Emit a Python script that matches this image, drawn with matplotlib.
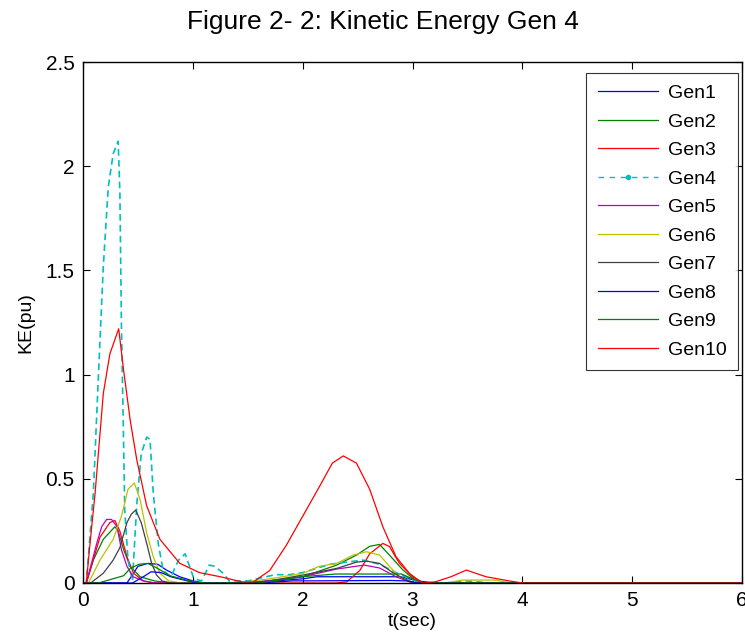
import matplotlib

matplotlib.use("Agg")
import matplotlib.pyplot as plt
from matplotlib.lines import Line2D

plt.rcParams["font.family"] = ["Liberation Sans", "DejaVu Sans"]

TITLE = "Figure 2- 2: Kinetic Energy Gen 4"
X_LABEL = "t(sec)"
Y_LABEL = "KE(pu)"
X_TICKS = [0, 1, 2, 3, 4, 5, 6]
Y_TICKS = [0, 0.5, 1, 1.5, 2, 2.5]
Y_TICK_LABELS = ["0", "0.5", "1", "1.5", "2", "2.5"]

# values (t in sec, KE in pu)
GEN1_T = [0, 0.40, 0.46, 0.50, 0.59, 0.68, 0.76, 0.88, 1.0, 1.1, 1.5, 2.0, 2.13, 2.89, 3.05, 3.2, 6]
GEN1_KE = [0, 0, 0.047, 0.08, 0.094, 0.09, 0.062, 0.03, 0.01, 0, 0, 0.02, 0.03, 0.03, 0.01, 0, 0]

GEN2_T = [0, 0.03, 0.094, 0.185, 0.29, 0.32, 0.37, 0.43, 0.52, 0.65, 0.8, 1.4, 1.7, 2.0, 2.31,
          2.49, 2.61, 2.7, 2.79, 2.91, 3.03, 3.12, 6]
GEN2_KE = [0, 0, 0.11, 0.21, 0.27, 0.25, 0.16, 0.08, 0.03, 0.01, 0, 0, 0.01, 0.03, 0.086,
           0.134, 0.176, 0.185, 0.134, 0.064, 0.01, 0, 0]

GEN3_T = [0, 0.03, 0.155, 0.245, 0.29, 0.335, 0.40, 0.46, 0.55, 0.65, 2.3, 2.40, 2.52, 2.61,
          2.73, 2.79, 2.88, 3.0, 3.1, 6]
GEN3_KE = [0, 0, 0.22, 0.29, 0.30, 0.25, 0.126, 0.047, 0.01, 0, 0, 0.005, 0.06, 0.14,
           0.19, 0.175, 0.095, 0.03, 0, 0]

GEN4_T = [0, 0.03, 0.094, 0.14, 0.185, 0.23, 0.275, 0.32, 0.336, 0.35, 0.367, 0.38, 0.41, 0.45,
          0.49, 0.53, 0.58, 0.61, 0.64, 0.685, 0.73, 0.80, 0.87, 0.93, 0.97, 1.01, 1.08, 1.15,
          1.2, 1.28, 1.33, 1.5, 1.75, 1.88, 2.0, 2.25, 2.4, 2.55, 2.7, 2.85, 3.0, 3.1, 3.3, 3.5,
          3.7, 6]
GEN4_KE = [0, 0, 0.43, 0.99, 1.52, 1.90, 2.06, 2.12, 1.87, 1.23, 0.75, 0.35, 0.11, 0.01,
           0.38, 0.62, 0.70, 0.69, 0.43, 0.19, 0.06, 0.03, 0.11, 0.14, 0.08, 0.02, 0.01, 0.086,
           0.08, 0.045, 0.01, 0.01, 0.04, 0.04, 0.05, 0.09, 0.10, 0.11, 0.09, 0.05, 0.015, 0, 0,
           0.01, 0, 0]

GEN5_T = [0, 0.03, 0.125, 0.17, 0.215, 0.26, 0.31, 0.35, 0.40, 0.455, 0.55, 0.65, 1.5, 2.0,
          2.31, 2.56, 2.7, 2.85, 3.0, 6]
GEN5_KE = [0, 0, 0.19, 0.27, 0.305, 0.305, 0.27, 0.16, 0.08, 0.03, 0.01, 0, 0, 0.03,
           0.067, 0.086, 0.072, 0.03, 0, 0]

GEN6_T = [0, 0.05, 0.155, 0.275, 0.35, 0.41, 0.467, 0.52, 0.58, 0.64, 0.70, 0.78, 0.9, 1.4,
          1.7, 2.0, 2.15, 2.31, 2.46, 2.58, 2.7, 2.79, 2.88, 3.02, 3.3, 3.45, 3.75, 3.9, 6]
GEN6_KE = [0, 0, 0.11, 0.21, 0.32, 0.45, 0.48, 0.40, 0.24, 0.126, 0.047, 0.01, 0, 0,
           0.02, 0.046, 0.08, 0.094, 0.134, 0.15, 0.134, 0.08, 0.03, 0, 0, 0.014, 0.014, 0, 0]

GEN7_T = [0, 0.07, 0.185, 0.275, 0.336, 0.40, 0.44, 0.48, 0.53, 0.58, 0.625, 0.67, 0.72, 0.8,
          1.5, 1.7, 2.0, 2.31, 2.49, 2.58, 2.7, 2.82, 2.92, 3.02, 6]
GEN7_KE = [0, 0, 0.047, 0.11, 0.17, 0.29, 0.33, 0.35, 0.29, 0.19, 0.094, 0.038, 0.01, 0,
           0, 0.01, 0.038, 0.07, 0.1, 0.105, 0.094, 0.05, 0.02, 0, 0]

GEN8_T = [0, 0.45, 0.55, 0.62, 0.71, 0.8, 0.95, 1.05, 1.6, 1.9, 2.8, 2.95, 3.05, 6]
GEN8_KE = [0, 0, 0.03, 0.054, 0.05, 0.03, 0.01, 0, 0, 0.01, 0.012, 0.01, 0, 0]

GEN9_T = [0, 0.14, 0.37, 0.43, 0.51, 0.59, 0.68, 0.79, 0.97, 1.1, 1.6, 1.99, 2.3, 2.9, 3.0,
          3.1, 6]
GEN9_KE = [0, 0, 0.035, 0.07, 0.09, 0.094, 0.07, 0.035, 0.01, 0, 0, 0.03, 0.043, 0.043, 0.02,
           0, 0]

GEN10_T = [0, 0.03, 0.064, 0.11, 0.185, 0.245, 0.325, 0.37, 0.43, 0.49, 0.58, 0.70, 0.88, 1.06,
           1.25, 1.45, 1.55, 1.7, 1.85, 2.0, 2.15, 2.27, 2.37, 2.49, 2.61, 2.73, 2.85, 2.97,
           3.09, 3.21, 3.35, 3.49, 3.67, 3.88, 4.0, 6]
GEN10_KE = [0, 0, 0.19, 0.43, 0.91, 1.10, 1.22, 1.02, 0.78, 0.59, 0.37, 0.21, 0.095, 0.05,
            0.03, 0.005, 0.005, 0.06, 0.18, 0.32, 0.46, 0.575, 0.61, 0.575, 0.45, 0.27, 0.126,
            0.047, 0, 0.006, 0.03, 0.062, 0.03, 0.01, 0, 0]

LABELS = ["Gen1", "Gen2", "Gen3", "Gen4", "Gen5", "Gen6", "Gen7", "Gen8", "Gen9", "Gen10"]
SERIES = [
    (GEN1_T, GEN1_KE),
    (GEN2_T, GEN2_KE),
    (GEN3_T, GEN3_KE),
    (GEN4_T, GEN4_KE),
    (GEN5_T, GEN5_KE),
    (GEN6_T, GEN6_KE),
    (GEN7_T, GEN7_KE),
    (GEN8_T, GEN8_KE),
    (GEN9_T, GEN9_KE),
    (GEN10_T, GEN10_KE),
]

# matlab style line colours
COLORS = [
    (0, 0, 1),
    (0, 0.5, 0),
    (1, 0, 0),
    (0, 0.75, 0.75),
    (0.75, 0, 0.75),
    (0.75, 0.75, 0),
    (0.25, 0.25, 0.25),
    (0, 0, 1),
    (0, 0.5, 0),
    (1, 0, 0),
]

W, H = 745, 638
fig = plt.figure(figsize=(W / 100, H / 100), dpi=100)
ax = fig.add_axes([83 / W, 1 - 583 / H, 659 / W, 521 / H])

handles = []
for (t, ke), label, color in zip(SERIES, LABELS, COLORS):
    if label == "Gen4":
        ax.plot(t, ke, color=color, lw=1.2, ls=(0, (4, 2.5)))
        handles.append(Line2D([], [], color=color, lw=1.0, ls=(0, (4, 4)),
                              marker=".", markersize=6, label=label))
    else:
        ax.plot(t, ke, color=color, lw=0.9)
        handles.append(Line2D([], [], color=color, lw=0.9, label=label))

ax.set_xlim(0, 6)
ax.set_ylim(0, 2.5)
ax.set_xticks(X_TICKS)
ax.set_yticks(Y_TICKS)
ax.set_yticklabels(Y_TICK_LABELS)
ax.tick_params(direction="in", length=5, width=0.8, labelsize=15,
               top=True, right=True, pad=6)
for s in ax.spines.values():
    s.set_linewidth(1.0)

ax.set_xlabel(X_LABEL, fontsize=14, labelpad=2)
ax.set_ylabel(Y_LABEL, fontsize=14, labelpad=8)

fig.text(383 / W, 1 - 22 / H, TITLE, fontsize=19, ha="center", va="center")

leg = ax.legend(handles=handles, loc="upper right", bbox_to_anchor=(0.994, 0.979),
                borderaxespad=0, fontsize=14, handlelength=3.1, handletextpad=0.5,
                labelspacing=0.56, borderpad=0.6, fancybox=False, numpoints=1)
leg.get_frame().set_edgecolor("black")
leg.get_frame().set_linewidth(0.8)

fig.savefig("out.png", dpi=100)
